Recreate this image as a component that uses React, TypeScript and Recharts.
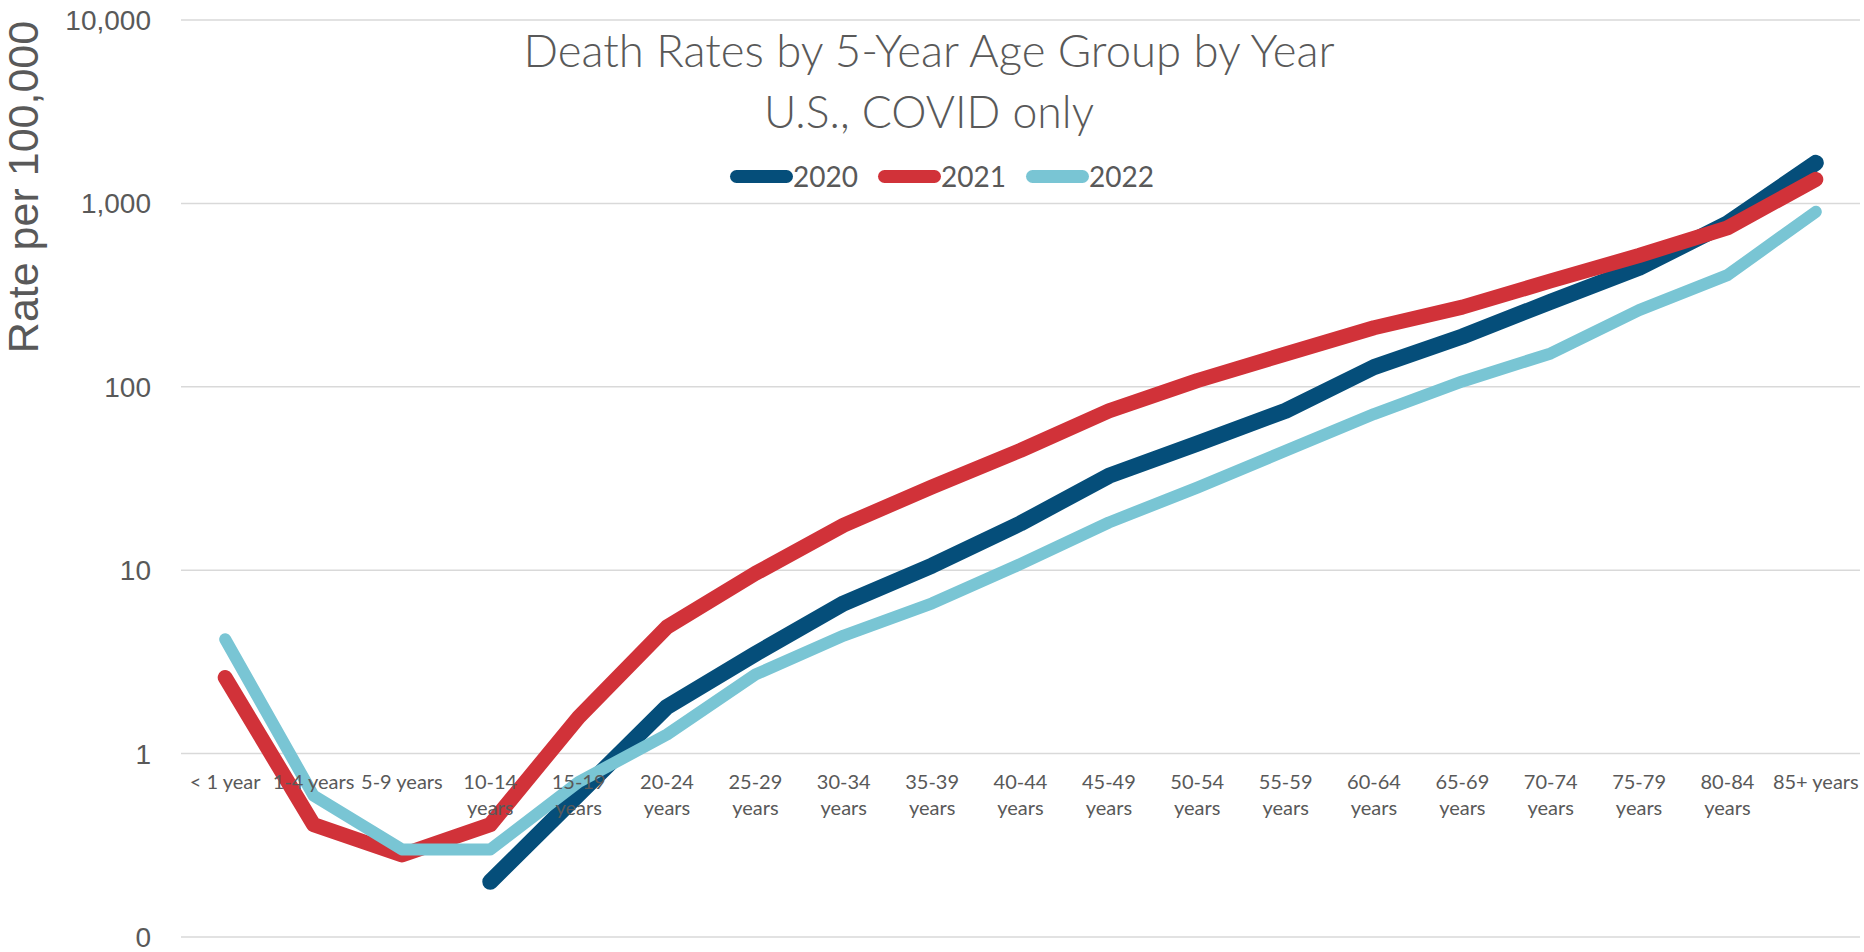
import React from 'react';
import { LineChart, Line, XAxis, YAxis, CartesianGrid, Legend } from 'recharts';

const categories = [
  '< 1 year', '1-4 years', '5-9 years', '10-14 years', '15-19 years', '20-24 years',
  '25-29 years', '30-34 years', '35-39 years', '40-44 years', '45-49 years', '50-54 years',
  '55-59 years', '60-64 years', '65-69 years', '70-74 years', '75-79 years', '80-84 years', '85+ years',
];
const rates2020 = [null, null, null, 0.2, 0.6, 1.8, 3.5, 6.6, 10.6, 18, 32.7, 49, 74, 128, 188, 291, 445, 778, 1665];
const rates2021 = [2.6, 0.41, 0.28, 0.41, 1.58, 4.9, 9.6, 17.6, 28.5, 45, 74, 108, 151, 210, 272, 378, 520, 735, 1352];
const rates2022 = [4.2, 0.59, 0.3, 0.3, 0.7, 1.27, 2.7, 4.4, 6.6, 10.8, 18.2, 28.2, 44.8, 71, 107, 152, 262, 406, 900];
const yTicks = [0.1, 1, 10, 100, 1000, 10000];
const seriesKeys = ['y2020', 'y2021', 'y2022'];
const seriesNames = ['2020', '2021', '2022'];
const seriesColors = ['#054E7A', '#D13239', '#79C5D4'];
const seriesWidths = [16, 15, 12];
const titleLines = ['Death Rates by 5-Year Age Group by Year', 'U.S., COVID only'];
const yLabel = 'Rate per 100,000';

const data = categories.map((c, i) => ({
  age: c,
  y2020: rates2020[i],
  y2021: rates2021[i],
  y2022: rates2022[i],
}));

const W = 1864;
const H = 952;
const MARGIN = { top: 20, right: 4, bottom: 0, left: 0 };
const Y_AXIS_W = 181;
const X_AXIS_H = 15;
const PLOT_W = W - MARGIN.left - MARGIN.right - Y_AXIS_W;
const PLOT_H = H - MARGIN.top - MARGIN.bottom - X_AXIS_H;
const DOMAIN: [number, number] = [0.1, 10000];
const CROSS_AT = 1;
const crossShift =
  (PLOT_H * (Math.log10(CROSS_AT) - Math.log10(DOMAIN[0]))) /
  (Math.log10(DOMAIN[1]) - Math.log10(DOMAIN[0]));
const halfBand = PLOT_W / categories.length / 2;

const TEXT = '#595959';
const CAL = 'Lato, "Open Sans", sans-serif';
const ARIAL = '"Liberation Sans", Arial, sans-serif';

const fmtY = (v: number) => (v < 1 ? '0' : v.toLocaleString('en-US'));

const XTick = (props: any) => {
  const { x, y, payload } = props;
  const label = String(payload.value);
  const lines = label.length > 9 ? label.split(' ') : [label];
  const top = y - crossShift;
  return (
    <text x={x} y={top} textAnchor="middle" fill={TEXT} fontSize={20} fontFamily={CAL}>
      {lines.map((ln, i) => (
        <tspan key={i} x={x} dy={i === 0 ? 35 : 26}>
          {ln}
        </tspan>
      ))}
    </text>
  );
};

const renderLegend = (props: any) => {
  const { payload } = props;
  return (
    <div style={{ display: 'flex', justifyContent: 'center', alignItems: 'center', gap: 20 }}>
      {(payload || []).map((entry: any) => (
        <div key={entry.value} style={{ display: 'flex', alignItems: 'center' }}>
          <div style={{ width: 63, height: 13, borderRadius: 7, background: entry.color }} />
          <span style={{ fontSize: 28, color: TEXT, fontFamily: CAL, lineHeight: '30px' }}>{entry.value}</span>
        </div>
      ))}
    </div>
  );
};

export default function App() {
  return (
    <div style={{ position: 'absolute', left: 0, top: 0, width: W, height: H, background: '#fff' }}>
      <LineChart width={W} height={H} data={data} margin={MARGIN}>
        <CartesianGrid vertical={false} stroke="#d9d9d9" strokeWidth={1.5} />
        <YAxis
          type="number"
          scale="log"
          domain={DOMAIN}
          ticks={yTicks}
          allowDataOverflow
          interval={0}
          width={Y_AXIS_W}
          axisLine={false}
          tickLine={false}
          tickSize={0}
          tickMargin={30}
          tickFormatter={fmtY}
          tick={{ fill: TEXT, fontSize: 28, fontFamily: ARIAL }}
        />
        {seriesKeys.map((k, i) => (
          <Line
            key={k}
            type="linear"
            dataKey={k}
            name={seriesNames[i]}
            stroke={seriesColors[i]}
            strokeWidth={seriesWidths[i]}
            strokeLinecap="round"
            strokeLinejoin="round"
            dot={false}
            activeDot={false}
            connectNulls={false}
            isAnimationActive={false}
          />
        ))}
        <XAxis
          dataKey="age"
          type="category"
          scale="point"
          padding={{ left: halfBand, right: halfBand }}
          height={X_AXIS_H}
          axisLine={false}
          tickLine={false}
          tickSize={0}
          tickMargin={0}
          interval={0}
          tick={<XTick />}
        />
        <Legend
          verticalAlign="middle"
          align="center"
          content={renderLegend}
          wrapperStyle={{ top: 161, left: 20, width: W - 20, height: 30 }}
        />
      </LineChart>
      <svg
        width={W}
        height={H}
        style={{ position: 'absolute', left: 0, top: 0, pointerEvents: 'none' }}
      >
        <text x={929} y={67} textAnchor="middle" fill={TEXT} fontSize={45.5} fontWeight={300} fontFamily={CAL}>
          {titleLines[0]}
        </text>
        <text x={929} y={128} textAnchor="middle" fill={TEXT} fontSize={44.5} fontWeight={300} fontFamily={CAL}>
          {titleLines[1]}
        </text>
        <text
          transform="translate(38, 187) rotate(-90)"
          textAnchor="middle"
          fill={TEXT}
          fontSize={43}
          fontFamily={ARIAL}
        >
          {yLabel}
        </text>
      </svg>
    </div>
  );
}
